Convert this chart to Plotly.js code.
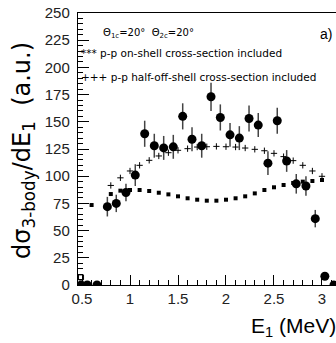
<!DOCTYPE html>
<html>
<head>
<meta charset="utf-8">
<script src="https://cdn.plot.ly/plotly-3.0.1.min.js"></script>
<style>html,body{margin:0;padding:0;background:#fff;}#chart{width:336px;height:343px;}</style>
</head>
<body>
<div id="chart"></div>
<script>
// Experimental data (filled circles)
const expE = [0.764, 0.857, 0.958, 1.055, 1.153, 1.253, 1.351, 1.451, 1.549, 1.646, 1.747, 1.844, 1.941, 2.042, 2.139, 2.240, 2.336, 2.437, 2.534, 2.632, 2.732, 2.833, 2.930, 3.030, 0.49, 0.555, 0.656, 3.125];
const expY = [72, 75, 85, 101, 139, 128, 126, 127, 155, 134, 128, 173, 154, 138, 135, 153, 147, 112, 151, 114, 93, 91, 61, 8, 0, 0, 0, 0];
const expErr = [9, 8, 8, 10, 12, 11, 11, 11, 12, 11, 11, 13, 12, 11, 11, 12, 11, 11, 12, 10, 9, 9, 8, 2, 0, 0, 0, 0];

// Open square near origin
const boxE = [0.49];
const boxY = [7];

// On-shell calculation (small squares)
const onE = [0.6, 0.8, 0.9, 1.0, 1.1, 1.2, 1.3, 1.4, 1.5, 1.6, 1.7, 1.8, 1.9, 2.0, 2.1, 2.2, 2.3, 2.4, 2.5, 2.6, 2.7, 2.8, 2.9, 3.0];
const onY = [73.5, 83.6, 86.7, 87.3, 87.3, 86.4, 84.8, 83.3, 81.5, 79.7, 78.4, 77.5, 77.5, 78.4, 79.7, 81.5, 84.2, 87.3, 89.8, 91.9, 93.8, 95.0, 95.6, 96.5];

// Half-off-shell calculation (plus signs)
const offE = [0.8, 0.9, 1.0, 1.1, 1.2, 1.3, 1.4, 1.5, 1.6, 1.7, 1.8, 1.9, 2.0, 2.1, 2.2, 2.3, 2.4, 2.5, 2.6, 2.7, 2.8, 2.9, 3.0];
const offY = [91.5, 98.5, 104.8, 110, 114.6, 118.6, 121.6, 123.8, 125.3, 126.8, 127.1, 127.4, 127.1, 126.8, 125.9, 124.7, 123.4, 121, 118, 114.3, 110, 104.8, 99.9];

const FONT = "Liberation Sans, Arial, sans-serif";
const WFONT = "DejaVu Sans, Verdana, sans-serif";

const traces = [
  {x: onE, y: onY, type: 'scatter', mode: 'markers',
   marker: {symbol: 'square', size: 4, color: '#000'}},
  {x: offE, y: offY, type: 'scatter', mode: 'markers',
   marker: {symbol: 'cross-thin', size: 4.5, color: '#000', line: {color: '#000', width: 1}}},
  {x: boxE, y: boxY, type: 'scatter', mode: 'markers',
   marker: {symbol: 'square-open', size: 5, color: '#000', line: {color: '#000', width: 1}}},
  {x: expE, y: expY, type: 'scatter', mode: 'markers',
   marker: {symbol: 'circle', size: 9, color: '#000'},
   error_y: {type: 'data', array: expErr, visible: true, color: '#444', thickness: 1.5, width: 0}}
];

function px2x(px) { return (px - 78) / 258; }
function py2y(py) { return (285 - py) / 272; }

const layout = {
  width: 336, height: 343,
  margin: {l: 78, r: 0, t: 13, b: 58},
  paper_bgcolor: '#fff', plot_bgcolor: '#fff',
  showlegend: false,
  font: {family: FONT, color: '#000'},
  xaxis: {
    range: [0.4583, 3.146],
    showgrid: false, zeroline: false,
    showline: true, linecolor: '#000', linewidth: 1.2, mirror: true,
    ticks: 'inside', ticklen: 10, tickwidth: 1, tickcolor: '#000',
    tickvals: [0.5, 1, 1.5, 2, 2.5, 3], ticktext: ['0.5', '1', '1.5', '2', '2.5', '3'],
    minor: {dtick: 0.1, tick0: 0, ticks: 'inside', ticklen: 5, tickcolor: '#000', tickwidth: 1, showgrid: false},
    tickfont: {size: 15, family: FONT, color: '#222'}
  },
  yaxis: {
    range: [0, 250],
    showgrid: false, zeroline: false,
    showline: true, linecolor: '#000', linewidth: 1.2,
    ticks: 'inside', ticklen: 11, tickwidth: 1, tickcolor: '#000',
    dtick: 25, tick0: 0,
    minor: {dtick: 5, ticks: 'inside', ticklen: 5, tickcolor: '#000', tickwidth: 1, showgrid: false},
    tickfont: {size: 15, family: FONT, color: '#222'},
    ticklabelstandoff: 4
  },
  annotations: [
    {xref: 'paper', yref: 'paper', x: px2x(101), y: py2y(34), xanchor: 'left', yanchor: 'middle',
     text: 'Θ<sub>1c</sub>=20°  Θ<sub>2c</sub>=20°', showarrow: false, font: {size: 10, family: WFONT}},
    {xref: 'paper', yref: 'paper', x: px2x(318), y: py2y(34), xanchor: 'left', yanchor: 'middle',
     text: 'a)', showarrow: false, font: {size: 14, family: FONT}},
    {xref: 'paper', yref: 'paper', x: px2x(79), y: py2y(53), xanchor: 'left', yanchor: 'middle',
     text: '*** p-p on-shell cross-section included', showarrow: false, font: {size: 10.5, family: WFONT}},
    {xref: 'paper', yref: 'paper', x: px2x(79), y: py2y(77), xanchor: 'left', yanchor: 'middle',
     text: '+++ p-p half-off-shell cross-section included', showarrow: false, font: {size: 10.5, family: WFONT}},
    {xref: 'paper', yref: 'paper', x: px2x(23), y: py2y(151), xanchor: 'center', yanchor: 'middle',
     text: 'dσ<sub>3-body</sub>/dE<sub>1</sub>  (a.u.)', textangle: -90, showarrow: false, font: {size: 24, family: WFONT}},
    {xref: 'paper', yref: 'paper', x: px2x(249), y: py2y(327), xanchor: 'left', yanchor: 'middle',
     text: 'E<sub>1</sub> (MeV)', showarrow: false, font: {size: 21, family: FONT}}
  ]
};

Plotly.newPlot('chart', traces, layout, {displayModeBar: false, staticPlot: true});
</script>
</body>
</html>
